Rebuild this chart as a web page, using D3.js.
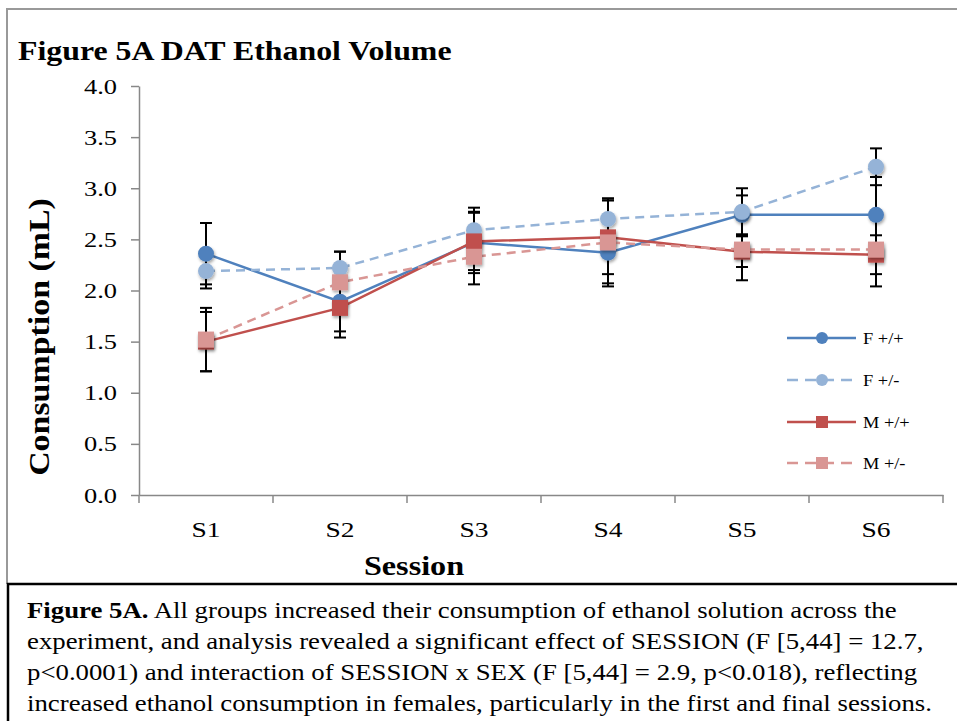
<!DOCTYPE html>
<html>
<head>
<meta charset="utf-8">
<script src="https://cdn.jsdelivr.net/npm/d3@7"></script>
<style>
  body { margin: 0; background: #fff; }
  text { font-family: "Liberation Serif", "Times New Roman", serif; }
</style>
</head>
<body>
<div id="wrapper"></div>
<script>
// data
const sessions = ["S1", "S2", "S3", "S4", "S5", "S6"]
const fHomo = [2.36, 1.89, 2.47, 2.37, 2.74, 2.74]
const fHomoErr = [0.30, 0.29, 0.30, 0.30, 0.19, 0.37]
const fHet = [2.19, 2.22, 2.59, 2.70, 2.77, 3.21]
const fHetErr = [0.17, 0.16, 0.22, 0.20, 0.23, 0.18]
const mHomo = [1.50, 1.83, 2.48, 2.52, 2.38, 2.35]
const mHomoErr = [0.29, 0.29, 0.28, 0.36, 0.15, 0.19]
const mHet = [1.52, 2.08, 2.33, 2.47, 2.40, 2.40]
const mHetErr = [0.31, 0.30, 0.27, 0.43, 0.30, 0.36]
const yTicks = [0, 0.5, 1, 1.5, 2, 2.5, 3, 3.5, 4]
const captionLines = [
  [["Figure 5A.", true], [" All groups increased their consumption of ethanol solution across the", false]],
  [["experiment, and analysis revealed a significant effect of SESSION (F [5,44] = 12.7,", false]],
  [["p<0.0001) and interaction of SESSION x SEX (F [5,44] = 2.9, p<0.018), reflecting", false]],
  [["increased ethanol consumption in females, particularly in the first and final sessions.", false]],
]

const series = [
  { name: "F +/+", values: fHomo, errs: fHomoErr, color: "#4f81bd", dash: null, shape: "circle" },
  { name: "F +/-", values: fHet, errs: fHetErr, color: "#95b3d7", dash: "9,6", shape: "circle" },
  { name: "M +/+", values: mHomo, errs: mHomoErr, color: "#c0504d", dash: null, shape: "square" },
  { name: "M +/-", values: mHet, errs: mHetErr, color: "#d99694", dash: "9,6", shape: "square" },
]

function drawChart() {
  const width = 957
  const height = 721
  const plot = { left: 139, right: 943, top: 86, bottom: 495 }
  // the reference type is a bit wider than Liberation Serif
  const stretch = 1.2

  const svg = d3.select("#wrapper")
    .append("svg")
    .attr("width", width)
    .attr("height", height)

  const defs = svg.append("defs")
  defs.append("filter")
      .attr("id", "shadow")
      .attr("x", "-50%").attr("y", "-50%")
      .attr("width", "200%").attr("height", "200%")
    .append("feDropShadow")
      .attr("dx", 1).attr("dy", 2)
      .attr("stdDeviation", 1.6)
      .attr("flood-color", "#000")
      .attr("flood-opacity", 0.35)

  // frames
  svg.append("path")
    .attr("d", `M7,584 V9 H${width}`)
    .attr("fill", "none")
    .attr("stroke", "#999")
    .attr("stroke-width", 2)
  svg.append("rect")
    .attr("x", 8).attr("y", 584)
    .attr("width", width + 10).attr("height", 200)
    .attr("fill", "none")
    .attr("stroke", "#000")
    .attr("stroke-width", 2.5)

  // scales
  const xScale = d3.scaleBand()
    .domain(sessions)
    .range([plot.left, plot.right])
  const yScale = d3.scaleLinear()
    .domain([0, 4])
    .range([plot.bottom, plot.top])
  const cx = s => xScale(s) + xScale.bandwidth() / 2

  // title
  svg.append("text")
    .attr("transform", `translate(18,60) scale(1.18,1)`)
    .attr("font-size", 27).attr("font-weight", "bold")
    .text("Figure 5A DAT Ethanol Volume")

  // y axis
  const yAxis = svg.append("g")
    .attr("transform", `translate(${plot.left},0)`)
    .call(d3.axisLeft(yScale).tickValues(yTicks).tickFormat(d3.format(".1f")).tickSize(8).tickSizeOuter(0).tickPadding(14))
  yAxis.select(".domain").attr("stroke", "#888").attr("stroke-width", 1.5)
  yAxis.selectAll(".tick line").attr("stroke", "#888").attr("stroke-width", 1.5)
  yAxis.selectAll(".tick text")
    .attr("font-size", 22).attr("fill", "#000")
    .attr("x", -22 / stretch)
    .attr("transform", `scale(${stretch},1)`)
    .style("font-family", "'Liberation Serif', serif")

  // x axis
  const xAxis = svg.append("g")
    .attr("transform", `translate(0,${plot.bottom})`)
    .call(d3.axisBottom(xScale).tickSize(0).tickSizeOuter(0).tickPadding(26))
  xAxis.select(".domain").attr("stroke", "#888").attr("stroke-width", 1.5)
  xAxis.selectAll(".tick text")
    .attr("font-size", 22).attr("fill", "#000")
    .attr("transform", `scale(1.25,1)`)
    .style("font-family", "'Liberation Serif', serif")
  const bounds = sessions.map(s => xScale(s)).concat([plot.right])
  xAxis.selectAll(".bound")
    .data(bounds)
    .join("line")
      .attr("x1", d => d).attr("x2", d => d)
      .attr("y1", 0).attr("y2", 8)
      .attr("stroke", "#888").attr("stroke-width", 1.5)

  // axis titles
  svg.append("text")
    .attr("transform", `translate(414,575) scale(1.15,1)`)
    .attr("text-anchor", "middle")
    .attr("font-size", 28).attr("font-weight", "bold")
    .text("Session")
  svg.append("text")
    .attr("transform", `translate(49,337) rotate(-90) scale(1.13,1)`)
    .attr("text-anchor", "middle")
    .attr("font-size", 30).attr("font-weight", "bold")
    .text("Consumption (mL)")

  // error bars
  const errG = svg.append("g")
  series.forEach(sr => {
    sessions.forEach((s, i) => {
      const x = cx(s)
      const hi = yScale(sr.values[i] + sr.errs[i])
      const lo = yScale(sr.values[i] - sr.errs[i])
      errG.append("line")
        .attr("x1", x).attr("x2", x).attr("y1", hi).attr("y2", lo)
        .attr("stroke", "#000").attr("stroke-width", 2)
      ;[hi, lo].forEach(y => errG.append("line")
        .attr("x1", x - 6).attr("x2", x + 6).attr("y1", y).attr("y2", y)
        .attr("stroke", "#000").attr("stroke-width", 2))
    })
  })

  // lines and markers
  const line = d3.line()
    .x((d, i) => cx(sessions[i]))
    .y(d => yScale(d))

  const drawMarker = (g, shape, x, y, size, color, shadow) => {
    const m = shape === "circle"
      ? g.append("circle").attr("cx", x).attr("cy", y).attr("r", size / 2)
      : g.append("rect").attr("x", x - size / 2).attr("y", y - size / 2).attr("width", size).attr("height", size)
    m.attr("fill", color)
    if (shadow) m.attr("filter", "url(#shadow)")
  }

  series.forEach(sr => {
    const g = svg.append("g")
    g.append("path")
      .attr("d", line(sr.values))
      .attr("fill", "none")
      .attr("stroke", sr.color)
      .attr("stroke-width", 2.5)
      .attr("stroke-dasharray", sr.dash)
    sr.values.forEach((v, i) => drawMarker(g, sr.shape, cx(sessions[i]), yScale(v), 16, sr.color, true))
  })

  // legend
  const legend = svg.append("g")
  const legendY = [338, 380, 422, 463]
  series.forEach((sr, i) => {
    const y = legendY[i]
    legend.append("line")
      .attr("x1", 787).attr("x2", 856).attr("y1", y).attr("y2", y)
      .attr("stroke", sr.color).attr("stroke-width", 2.5)
      .attr("stroke-dasharray", sr.dash ? "11,7" : null)
    drawMarker(legend, sr.shape, 822, y, 12, sr.color, false)
    legend.append("text")
      .attr("transform", `translate(863,${y + 6}) scale(1.08,1)`)
      .attr("font-size", 17)
      .text(sr.name)
  })

  // caption
  captionLines.forEach((parts, i) => {
    const t = svg.append("text")
      .attr("transform", `translate(27,${618 + i * 31}) scale(1.165,1)`)
      .attr("font-size", 23)
    parts.forEach(([str, bold]) => {
      t.append("tspan")
        .attr("font-weight", bold ? "bold" : null)
        .text(str)
    })
  })
}

drawChart()
</script>
</body>
</html>
